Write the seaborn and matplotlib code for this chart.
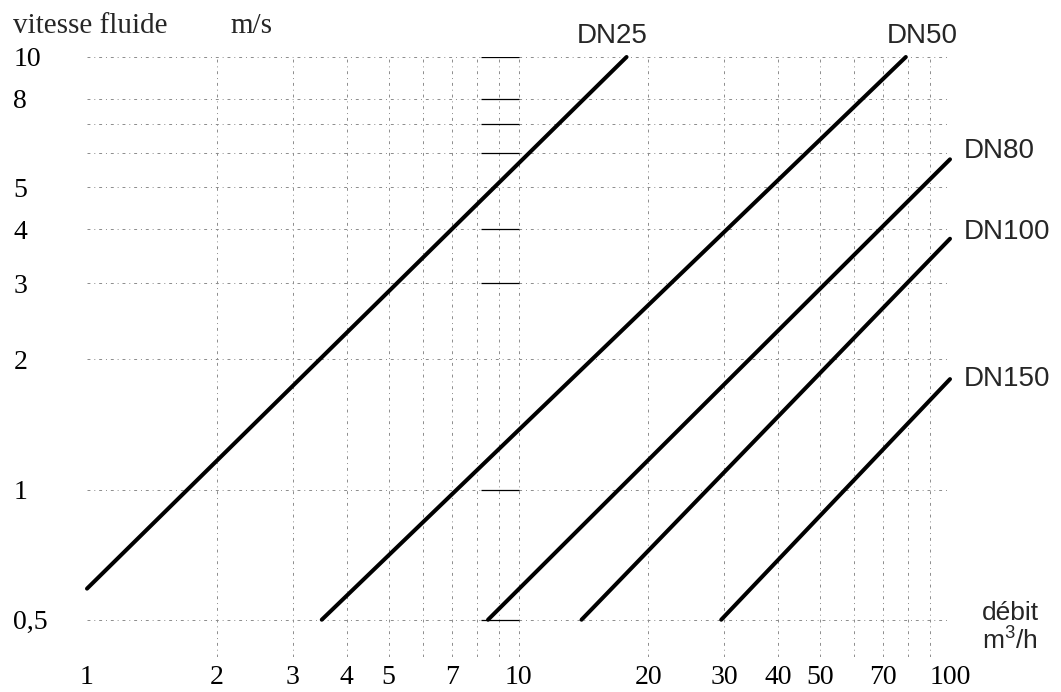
import numpy as np
import pandas as pd
import matplotlib
matplotlib.use("Agg")
import matplotlib.pyplot as plt
from matplotlib.ticker import FixedLocator, NullFormatter
import seaborn as sns

# ---- data ----
dn_labels = ["DN25", "DN50", "DN80", "DN100", "DN150"]
q_start = [1.0, 3.5, 8.5, 14.0, 29.5]      # débit m3/h at line start
q_end = [17.8, 79.0, 100.0, 100.0, 100.0]  # débit m3/h at line end
v_start = [0.59, 0.5, 0.5, 0.5, 0.5]       # vitesse m/s at line start
v_end = [10.0, 10.0, 5.8, 3.8, 1.8]        # vitesse m/s at line end

x_ticks = [1, 2, 3, 4, 5, 7, 10, 20, 30, 40, 50, 70, 100]
x_ticklabels = ["1", "2", "3", "4", "5", "7", "10", "20", "30", "40", "50", "70", "100"]
x_minor = [6, 8, 9, 60, 80, 90]
y_ticks = [0.5, 1, 2, 3, 4, 5, 8, 10]
y_ticklabels = ["0,5", "1", "2", "3", "4", "5", "8", "10"]
y_minor = [6, 7]
marker_levels = [0.5, 1, 3, 4, 6, 7, 8, 10]  # short black dashes near 8-10 m3/h
marker_q = [8.2, 10.0]

# ---- build long table ----
rows = []
for lab, qs, qe, vs, ve in zip(dn_labels, q_start, q_end, v_start, v_end):
    rows.append({"dn": lab, "q": qs, "v": vs})
    rows.append({"dn": lab, "q": qe, "v": ve})
df = pd.DataFrame(rows)

sns.set_theme(style="white")
plt.rcParams["font.family"] = ["Liberation Serif", "DejaVu Serif"]
plt.rcParams["mathtext.fontset"] = "custom"
plt.rcParams["mathtext.rm"] = "Liberation Sans"
plt.rcParams["mathtext.it"] = "Liberation Sans"

fig = plt.figure(figsize=(10.61, 6.92), dpi=100)
ax = fig.add_axes([87 / 1061, 1 - 657 / 692, (950 - 87) / 1061, (657 - 57) / 692])

sns.lineplot(data=df, x="q", y="v", units="dn", estimator=None, color="black",
             lw=2.9, solid_capstyle="round", ax=ax, legend=False, sort=False)
for ln in ax.get_lines():
    ln.set_clip_on(False)

ax.set_xscale("log")
ax.set_yscale("log")
ax.set_xlim(1, 100)
ax.set_ylim(0.41, 10)

ax.xaxis.set_major_locator(FixedLocator(x_ticks))
ax.xaxis.set_minor_locator(FixedLocator(x_minor))
ax.xaxis.set_minor_formatter(NullFormatter())
ax.set_xticklabels(x_ticklabels)
ax.yaxis.set_major_locator(FixedLocator(y_ticks))
ax.yaxis.set_minor_locator(FixedLocator(y_minor))
ax.yaxis.set_minor_formatter(NullFormatter())
ax.set_yticklabels(y_ticklabels)

ax.tick_params(axis="x", which="both", length=0, pad=6, labelsize=20, colors="black")
ax.tick_params(axis="y", which="both", length=0, pad=53, labelsize=20, colors="black")
for t in ax.get_yticklabels():
    t.set_horizontalalignment("left")

grid_kw = dict(color="#8c8c8c", linewidth=0.7, linestyle=(0, (3, 4, 1, 4)))
ax.grid(True, which="both", **grid_kw)
# no gridline on the left edge (x = 1)
ax.xaxis.get_major_ticks()[0].gridline.set_visible(False)

for s in ax.spines.values():
    s.set_visible(False)
ax.set_xlabel("")
ax.set_ylabel("")

# short black marks
ax.hlines(marker_levels, marker_q[0], marker_q[1], colors="black", lw=0.9)

# line labels
offsets = {
    "DN25": ((-10, 10), "center"),
    "DN50": ((12, 10), "center"),
    "DN80": ((10, 1), "left"),
    "DN100": ((10, 0), "left"),
    "DN150": ((10, -5), "left"),
}
for lab, qe, ve in zip(dn_labels, q_end, v_end):
    (dx, dy), ha = offsets[lab]
    ax.annotate(lab, xy=(qe, ve), xytext=(dx, dy), textcoords="offset points",
                ha=ha, va="baseline", fontsize=20, family="Liberation Sans",
                annotation_clip=False)

# axis titles
fig.text(13 / 1061, 1 - 33 / 692, "vitesse fluide", fontsize=21, va="baseline", ha="left")
fig.text(230 / 1061, 1 - 33 / 692, "m/s", fontsize=21, va="baseline", ha="left")
fig.text(982 / 1061, 1 - 620 / 692, "débit", fontsize=19, va="baseline", ha="left",
         family="Liberation Sans")
fig.text(982 / 1061, 1 - 650 / 692, r"m$^3$/h", fontsize=19, va="baseline", ha="left",
         family="Liberation Sans")

fig.savefig("out.png", dpi=100)
